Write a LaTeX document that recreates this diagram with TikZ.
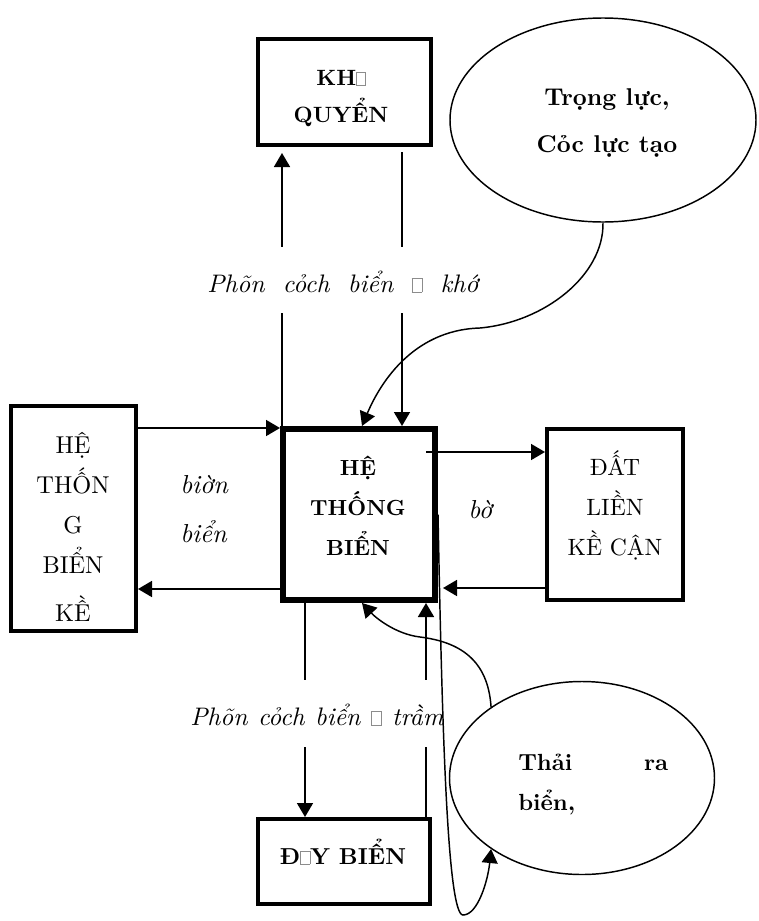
\documentclass[tikz,border=0pt]{standalone}
\usepackage{fontspec}
\setmainfont{lmroman10}[Extension=.otf, UprightFont=*-regular, BoldFont=*-bold, ItalicFont=*-italic, BoldItalicFont=*-bolditalic]
\usetikzlibrary{arrows.meta,shapes.geometric,calc}
\newcommand\nog{{\color{black!45}\fboxsep=0pt\fboxrule=0.4pt\fbox{\rule{0pt}{0.55em}\hspace{0.38em}}}}
\newcommand\rows[2]{\begin{tabular}[t]{@{}#1@{}}#2\end{tabular}}
\begin{document}
\begin{tikzpicture}[x=0.75pt,y=-0.75pt,
  box/.style={draw, line width=3pt, rectangle, inner sep=0pt},
  bigbox/.style={draw, line width=4.5pt, rectangle, inner sep=0pt},
  oval/.style={draw, line width=1.1pt, ellipse, inner sep=0pt},
  txt/.style={inner sep=0pt, anchor=base},
  txtl/.style={inner sep=0pt, anchor=base west},
  conn/.style={line width=1.3pt, -{Triangle[length=10.5pt,width=12pt]}},
  curve/.style={line width=1.1pt, -{Triangle[length=10.5pt,width=12pt]}},
  gaplabel/.style={fill=white, inner sep=0pt, anchor=base west, text height=33.75pt}]
\useasboundingbox (0,0) rectangle (758,921);
% boxes and ovals
\node[box, minimum width=129.75pt, minimum height=79.5pt] (kq) at (344.5,92) {};
\node[box, minimum width=93.75pt, minimum height=168.75pt] (lb) at (73.5,518.5) {};
\node[bigbox, minimum width=114pt, minimum height=128.25pt] (sys) at (359,514.5) {};
\node[box, minimum width=102pt, minimum height=128.25pt] (rb) at (615,514.5) {};
\node[box, minimum width=129pt, minimum height=63.75pt] (dy) at (344,861.5) {};
\node[oval, minimum width=229.5pt, minimum height=153pt] (force) at (603,120) {};
\node[oval, minimum width=198.75pt, minimum height=144.75pt] (thai) at (582,778) {};
% texts
\node[txt, font=\fontsize{16.6}{27.75}\selectfont\bfseries] (kqT) at (341,85) {\rows{c}{KH\nog\\QUYỂN}};
\node[txt, font=\fontsize{18.2}{35.25}\selectfont\bfseries] (forceT) at (607,105) {\rows{c}{Trọng lực,\\Cỏc lực tạo}};
\node[txt, font=\fontsize{16.4}{30}\selectfont\bfseries] (sysT) at (358,475) {\rows{c}{HỆ\\THỐNG\\BIỂN}};
\node[txt, font=\fontsize{18.3}{30}\selectfont] (lbT) at (73,453) {\rows{c}{HỆ\\THỐN\\G\\BIỂN\\[6pt]KỀ}};
\node[txt, font=\fontsize{17.7}{30}\selectfont] (rbT) at (615,475) {\rows{c}{ĐẤT\\LIỀN\\KỀ CẬN}};
\node[txtl, font=\fontsize{19.5}{36.75}\selectfont\itshape] (coast) at (180,493) {\rows{l}{biờn\\biển}};
\node[txtl, font=\fontsize{19.5}{30}\selectfont\itshape] (shore) at (468,518) {bờ};
\node[txtl, font=\fontsize{17.5}{30}\selectfont\bfseries] (thaiT) at (518,770) {\rows{l}{\makebox[112.5pt]{Thải\hfill ra}\\biển,}};
\node[txt, font=\fontsize{17.3}{30}\selectfont\bfseries] (dyT) at (343,864) {Đ\nog{}Y BIỂN};
% connector coordinates
\coordinate (kqL) at (282,153);
\coordinate (kqR) at (402,152);
\coordinate (a1) at ($(lb.north east)+(0,24)$);
\coordinate (a2) at ($(sys.south west)+(0,-14)$);
\coordinate (a3) at ($(sys.north east)+(-12,26)$);
\coordinate (a4) at ($(rb.south west)+(0,-14)$);
\coordinate (a5) at ($(sys.south west)+(25,0)$);
\coordinate (a6) at ($(dy.north east)+(-6,0)$);
% straight connectors
\draw[conn] (kqL |- sys.north) -- (kqL);
\draw[conn] (kqR) -- (kqR |- sys.north);
\draw[conn] (a1) -- (a1 -| sys.west);
\draw[conn] (a2) -- (a2 -| lb.east);
\draw[conn] (a3) -- (a3 -| rb.west);
\draw[conn, shorten >=3.75pt] (a4) -- (a4 -| sys.east);
\draw[conn] (a5) -- (a5 |- dy.north);
\draw[conn] (a6) -- (a6 |- sys.south);
% labels on the vertical connectors
\node[gaplabel, text depth=15.75pt, font=\fontsize{19}{30}\selectfont\itshape] (upL) at (207,292) {\makebox[203.25pt][s]{Phõn cỏch biển \nog\ khớ}};
\node[gaplabel, text depth=16.5pt, font=\fontsize{19}{30}\selectfont\itshape] (dnL) at (190,725) {\makebox[190pt][s]{Phõn cỏch biển \nog\ trầm}};
% curved connectors
\draw[curve] (force.south) .. controls (604,275) and (545,322) .. (480,328) .. controls (410,330) and (378,388) .. ($(sys.north)+(3,0)$);
\draw[curve] (thai.142) .. controls (488,660) and (460,642) .. (420,637) .. controls (395,634) and (375,617) .. ($(sys.south)+(3,0)$);
\draw[curve] (sys.east) .. controls (442,720) and (447,915) .. (463,915) .. controls (478,915) and (488,880) .. (thai.218);
\end{tikzpicture}
\end{document}
